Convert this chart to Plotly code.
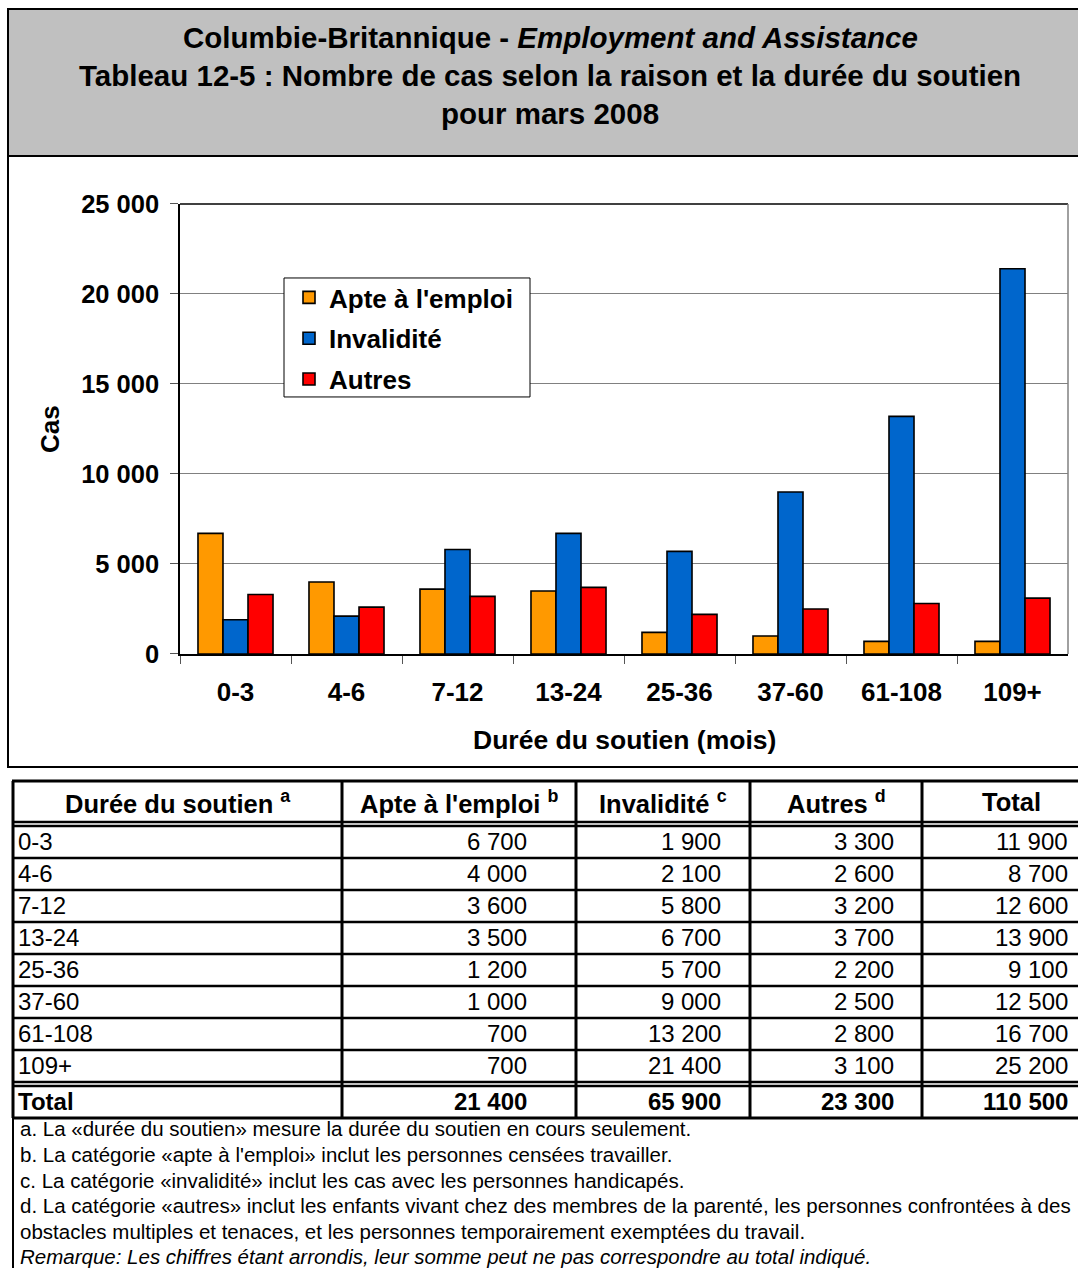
import plotly.graph_objects as go

W, H = 1078, 1268
FONT = "Liberation Sans, Arial, sans-serif"

# ---- data ----
durations = ["0-3", "4-6", "7-12", "13-24", "25-36", "37-60", "61-108", "109+"]
apte = [6700, 4000, 3600, 3500, 1200, 1000, 700, 700]
invalidite = [1900, 2100, 5800, 6700, 5700, 9000, 13200, 21400]
autres = [3300, 2600, 3200, 3700, 2200, 2500, 2800, 3100]
row_totals = [11900, 8700, 12600, 13900, 9100, 12500, 16700, 25200]
col_totals = [21400, 65900, 23300, 110500]

series_names = ["Apte à l'emploi", "Invalidité", "Autres"]
series_values = [apte, invalidite, autres]
series_colors = ["#FF9900", "#0066CC", "#FF0000"]
y_ticks = [0, 5000, 10000, 15000, 20000, 25000]

title_lines = [
    "<b>Columbie-Britannique - <i>Employment and Assistance</i></b>",
    "<b>Tableau 12-5 : Nombre de cas selon la raison et la durée du soutien</b>",
    "<b>pour mars 2008</b>",
]
table_headers = [
    "Durée du soutien <sup>a</sup>",
    "Apte à l'emploi <sup>b</sup>",
    "Invalidité <sup>c</sup>",
    "Autres <sup>d</sup>",
    "Total",
]
footnotes = [
    "a. La «durée du soutien» mesure la durée du soutien en cours seulement.",
    "b. La catégorie «apte à l'emploi» inclut les personnes censées travailler.",
    "c. La catégorie «invalidité» inclut les cas avec les personnes handicapés.",
    "d. La catégorie «autres» inclut les enfants vivant chez des membres de la parenté, les personnes confrontées à des",
    "obstacles multiples et tenaces, et les personnes temporairement exemptées du travail.",
    "<i>Remarque: Les chiffres étant arrondis, leur somme peut ne pas correspondre au total indiqué.</i>",
]

# page layout helpers (pixel positions -> paper fractions)
V_OFF, V_SCALE = 14, 0.978


def px(x):
    return x / W


def py(y):
    return 1 - ((y - V_OFF) / V_SCALE) / H


def fmt(v):
    return f"{v:,}".replace(",", " ")


fig = go.Figure()
for name, vals, color in zip(series_names, series_values, series_colors):
    fig.add_trace(go.Bar(
        x=durations, y=vals, name=name, legendgroup=name,
        marker=dict(color=color, line=dict(color="black", width=1.6)),
    ))

shapes = []
annotations = []

# title banner and chart frame
shapes.append(dict(type="rect", xref="paper", yref="paper",
                   x0=px(8), x1=px(1100), y0=py(9), y1=py(156),
                   fillcolor="#C0C0C0", line=dict(color="black", width=2), layer="below"))
shapes.append(dict(type="rect", xref="paper", yref="paper",
                   x0=px(8), x1=px(1100), y0=py(156), y1=py(767),
                   fillcolor="rgba(0,0,0,0)", line=dict(color="black", width=2), layer="below"))
for i, t in enumerate(title_lines):
    annotations.append(dict(text=t, xref="paper", yref="paper", x=px(550), y=py(38 + 38 * i),
                            xanchor="center", yanchor="middle", showarrow=False,
                            font=dict(size=29.5, color="black", family=FONT)))

# plot frame: top and right edges
shapes.append(dict(type="line", xref="paper", yref="paper",
                   x0=px(180), x1=px(1068), y0=py(204), y1=py(204),
                   line=dict(color="black", width=1.5)))
shapes.append(dict(type="line", xref="paper", yref="paper",
                   x0=px(1068), x1=px(1068), y0=py(204), y1=py(654),
                   line=dict(color="#808080", width=1.5)))

# legend frame (legend itself is drawn transparent on top)
shapes.append(dict(type="rect", xref="paper", yref="paper",
                   x0=px(284), x1=px(530), y0=py(278), y1=py(397),
                   fillcolor="white", line=dict(color="black", width=1), layer="above"))

# axis titles
annotations.append(dict(text="<b>Durée du soutien (mois)</b>", xref="paper", yref="paper",
                        x=px(624), y=py(740), xanchor="center", yanchor="middle", showarrow=False,
                        font=dict(size=26.5, color="black", family=FONT)))
annotations.append(dict(text="<b>Cas</b>", xref="paper", yref="paper", textangle=-90,
                        x=px(50), y=py(429), xanchor="center", yanchor="middle", showarrow=False,
                        font=dict(size=26, color="black", family=FONT)))

# ---- data table ----
col_edges = [13, 342, 576, 750, 922, 1100]
header_top, header_bot = 781, 822
body_top = 826
row_h = 32
body_bot = body_top + row_h * len(durations)      # first line of the double rule
total_top = body_bot + 4
total_bot = total_top + 32


def hline(y, x0, x1, w):
    shapes.append(dict(type="line", xref="paper", yref="paper",
                       x0=px(x0), x1=px(x1), y0=py(y), y1=py(y),
                       line=dict(color="black", width=w)))


def vline(x, y0, y1, w):
    shapes.append(dict(type="line", xref="paper", yref="paper",
                       x0=px(x), x1=px(x), y0=py(y0), y1=py(y1),
                       line=dict(color="black", width=w)))


hline(header_top, 12, 1100, 3)
hline(header_bot, 12, 1100, 2.5)
hline(body_top, 12, 1100, 2.5)
for i in range(1, len(durations)):
    hline(body_top + row_h * i, 12, 1100, 2.5)
hline(body_bot, 12, 1100, 2.5)
hline(total_top, 12, 1100, 2.5)
hline(total_bot, 12, 1100, 3)
for x in col_edges[:-1]:
    vline(x, header_top, total_bot, 3)
vline(13, total_bot, 1300, 2)

# header cells
for i, h in enumerate(table_headers):
    cx = (col_edges[i] + col_edges[i + 1]) / 2
    annotations.append(dict(text=f"<b>{h}</b>", xref="paper", yref="paper",
                            x=px(cx), y=py((header_top + header_bot) / 2 + 1),
                            xanchor="center", yanchor="middle", showarrow=False,
                            font=dict(size=25.5, color="black", family=FONT)))

value_right = [529, 723, 896, 1070]
for r, label in enumerate(durations):
    cy = body_top + row_h * r + row_h / 2
    annotations.append(dict(text=label, xref="paper", yref="paper", x=px(16), y=py(cy),
                            xanchor="left", yanchor="middle", showarrow=False,
                            font=dict(size=24, color="black", family=FONT)))
    vals = [apte[r], invalidite[r], autres[r], row_totals[r]]
    for c, v in enumerate(vals):
        annotations.append(dict(text=fmt(v), xref="paper", yref="paper",
                                x=px(value_right[c]), y=py(cy),
                                xanchor="right", yanchor="middle", showarrow=False,
                                font=dict(size=24, color="black", family=FONT)))

cy = (total_top + total_bot) / 2
annotations.append(dict(text="<b>Total</b>", xref="paper", yref="paper", x=px(16), y=py(cy),
                        xanchor="left", yanchor="middle", showarrow=False,
                        font=dict(size=24, color="black", family=FONT)))
for c, v in enumerate(col_totals):
    annotations.append(dict(text=f"<b>{fmt(v)}</b>", xref="paper", yref="paper",
                            x=px(value_right[c]), y=py(cy),
                            xanchor="right", yanchor="middle", showarrow=False,
                            font=dict(size=24, color="black", family=FONT)))

# footnotes
for i, t in enumerate(footnotes):
    annotations.append(dict(text=t, xref="paper", yref="paper", x=px(18), y=py(1129 + 25.6 * i),
                            xanchor="left", yanchor="middle", showarrow=False,
                            font=dict(size=20.5, color="black", family=FONT)))

fig.update_layout(
    width=W, height=H,
    margin=dict(l=0, r=0, t=0, b=0),
    paper_bgcolor="white", plot_bgcolor="white",
    font=dict(family=FONT, color="black"),
    separators=", ",
    barmode="group", bargap=0.324, bargroupgap=0,
    showlegend=True,
    legend=dict(x=px(289), y=py(274), xanchor="left", yanchor="top",
                bgcolor="rgba(0,0,0,0)", borderwidth=0,
                font=dict(size=26, color="black", family=FONT, weight="bold"),
                traceorder="grouped", tracegroupgap=4),
    xaxis=dict(domain=[px(180), px(1068)], type="category",
               showline=True, linecolor="black", linewidth=1.5,
               ticks="outside", tickson="boundaries", ticklen=8, tickcolor="#555555", tickwidth=1,
               tickfont=dict(size=26, color="black", family=FONT, weight="bold"),
               ticklabelstandoff=14, showgrid=False),
    yaxis=dict(domain=[py(654), py(204)], range=[0, 25000], tickvals=y_ticks, tickformat=",d",
               showline=True, linecolor="black", linewidth=1.5,
               ticks="outside", ticklen=8, tickcolor="#555555", tickwidth=1,
               showgrid=True, gridcolor="#808080", gridwidth=1, zeroline=False,
               tickfont=dict(size=25.5, color="black", family=FONT, weight="bold"),
               ticklabelstandoff=6),
    shapes=shapes,
    annotations=annotations,
)

fig.write_html("out.html")
